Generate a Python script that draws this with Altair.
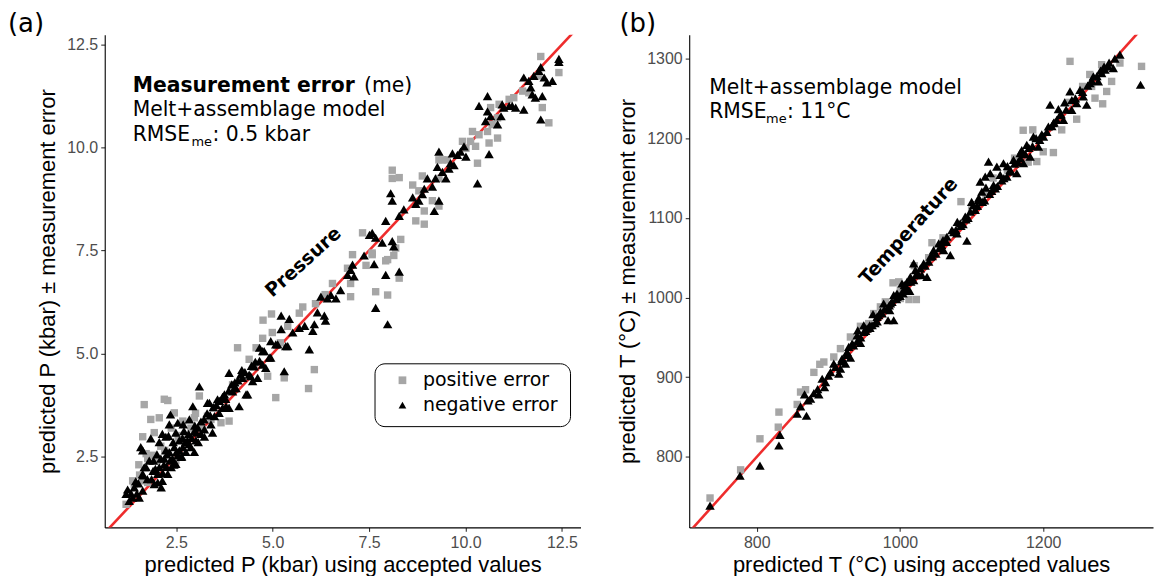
import altair as alt
import pandas as pd

# ---------------- Panel (a): pressure, kbar ----------------
PA_POS = [
    (1.20,1.34),(1.41,1.83),(1.37,1.91),(1.63,1.91),(1.76,1.87),(1.53,2.30),(1.72,2.57),(1.76,2.45),
    (1.89,2.53),(1.63,2.98),(1.93,3.08),(1.84,3.40),(1.67,3.76),(2.06,3.44),(2.19,3.89),(2.28,3.86),
    (2.45,3.56),(2.37,3.19),(2.63,3.01),(2.67,3.36),(2.88,3.19),(2.97,3.44),(3.10,3.97),(3.31,3.48),
    (3.49,3.68),(3.66,3.32),(3.96,4.24),(4.09,5.14),(4.39,4.86),(4.52,4.69),(4.87,4.45),(5.08,3.93),
    (5.30,4.41),(2.49,2.40),(2.01,2.40),(2.20,2.65),(2.78,2.80),(3.17,3.17),(3.79,3.68),(3.87,3.36),
    (3.40,3.40),(2.10,2.75),(2.55,2.95),(3.00,3.55),(1.55,2.05),
    (4.75,5.81),(4.97,5.96),(4.74,5.37),(4.99,5.51),(4.57,5.14),(5.69,5.98),(6.11,6.21),(6.55,6.70),
    (7.02,6.70),(7.02,6.38),(6.94,7.07),(7.07,7.40),(7.42,7.14),(7.58,7.40),(7.67,6.50),(7.98,6.42),
    (8.14,7.38),(7.93,7.25),(8.28,6.83),(5.93,4.15),(6.08,4.61),(5.39,5.66),(5.78,6.13),(6.36,6.43),
    (5.20,5.26),
    (7.33,7.93),(7.58,7.44),(7.98,7.28),(8.19,7.56),(8.32,7.77),(8.71,8.22),(8.93,8.14),(8.93,8.46),
    (9.14,8.71),(9.31,8.58),(8.79,8.95),(8.10,9.45),(8.10,9.25),(8.28,9.27),(8.63,9.09),(8.88,9.31),
    (9.31,9.70),(9.40,9.70),(9.52,9.70),(9.31,9.25),(9.92,10.15),(10.01,9.98),(10.13,10.15),(10.18,10.39),
    (10.35,10.31),(10.26,10.03),(10.31,9.62),(10.57,10.39),(10.61,10.11),(10.83,10.23),(10.69,10.56),
    (10.83,10.72),(10.87,11.05),(10.65,10.97),(11.13,11.17),(11.25,11.21),(11.48,11.37),(11.64,11.33),
    (11.90,11.74),(11.95,12.21),(12.42,11.82),(11.99,10.97),(12.16,10.60),
]
PA_NEG = [
    (1.20,1.59),(1.28,1.42),(1.41,1.75),(1.54,1.50),(1.63,1.67),(1.37,1.50),(1.24,1.70),(1.48,1.60),
    (1.63,2.08),(1.67,2.24),(1.58,2.73),(1.63,2.65),(1.84,2.94),(1.72,2.24),(1.63,2.04),(1.93,1.83),
    (2.02,1.87),(2.14,1.91),(2.11,1.75),(2.28,2.08),(2.02,2.08),(2.06,2.24),(2.37,2.24),(2.49,2.32),
    (2.19,2.45),(2.40,2.45),(2.54,2.53),(2.63,2.49),(2.32,2.61),(2.75,2.61),(2.97,2.61),(2.23,2.65),
    (2.45,2.73),(2.67,2.73),(2.88,2.73),(2.58,2.89),(2.79,2.89),(3.01,2.89),(2.23,2.98),(3.23,2.98),
    (2.14,3.05),(3.14,3.05),(2.70,3.12),(2.97,3.12),(3.23,3.16),(2.32,3.28),(3.40,3.28),(2.84,3.40),
    (3.49,3.48),(3.61,3.56),(2.93,3.72),(3.79,3.72),(4.13,3.72),(3.87,3.68),(3.36,3.80),(3.57,3.89),
    (3.75,4.01),(4.35,4.01),(3.10,4.20),(4.01,4.16),(3.87,4.53),(4.17,4.49),(4.43,4.45),(4.66,4.82),
    (4.78,5.06),(4.95,4.90),(5.13,5.22),(5.30,4.57),(5.34,5.18),(1.91,2.40),(2.15,2.10),(2.25,2.25),
    (2.44,2.30),(2.64,2.50),(2.83,2.80),(3.07,2.85),(3.02,3.08),(2.49,3.08),(2.35,3.52),(2.54,3.32),
    (2.06,2.85),(1.86,1.95),(1.96,2.20),(2.30,3.00),(2.68,3.28),(3.31,3.80),(3.44,3.08),(3.70,3.68),
    (3.96,4.08),(4.05,4.16),(4.22,4.41),(4.31,4.01),(4.39,4.49),(4.48,4.33),(4.52,4.69),(4.61,4.41),
    (4.66,5.14),(4.74,4.73),(4.74,5.06),(4.82,4.65),(4.91,4.90),(4.95,5.30),(5.08,5.22),(5.22,5.59),
    (5.22,5.92),(5.39,5.18),(5.43,5.84),(5.52,5.51),(5.69,5.62),(5.83,5.67),(5.95,5.10),(6.04,5.55),
    (6.08,5.71),(6.16,6.00),(6.25,6.38),(6.34,5.92),(6.37,5.80),(6.42,6.34),(6.51,6.42),(6.64,6.34),
    (6.76,6.54),(6.94,6.91),(7.02,7.03),(7.07,7.16),(7.11,6.87),(7.37,7.38),(7.63,7.17),(7.67,6.11),
    (7.93,6.91),(7.98,5.71),(8.28,6.99),
    (1.75,1.95),(1.80,2.40),(1.90,2.15),(2.00,2.55),(2.10,2.45),(2.18,2.30),(2.26,2.55),(2.34,2.40),
    (2.42,2.85),(2.50,2.60),(2.58,2.65),(2.66,2.95),(2.74,2.85),(2.82,3.05),(2.90,2.95),(2.98,3.25),
    (3.06,3.20),(3.14,3.35),(3.22,3.40),(3.30,3.55),(3.38,3.50),(3.46,3.70),(3.54,3.75),(3.62,3.85),
    (3.70,3.95),(3.78,3.90),(3.86,4.10),(3.94,4.25),(4.02,4.30),(4.10,4.35),(4.20,4.60),(4.28,4.55),
    (4.45,4.70),(4.55,4.80),(1.45,1.90),(1.52,1.85),(1.33,1.60),
    (7.58,7.93),(7.51,7.88),(7.67,7.81),(7.84,7.69),(7.93,8.22),(8.10,7.73),(8.14,7.60),(8.06,8.89),
    (8.10,8.71),(8.28,8.34),(8.40,8.50),(8.63,8.79),(8.71,8.63),(8.79,8.71),(8.88,8.87),(8.93,9.00),
    (9.01,9.25),(9.14,9.05),(9.19,8.46),(9.31,8.71),(9.22,9.25),(9.27,9.53),(9.40,9.41),(9.49,9.25),
    (9.57,9.49),(9.61,9.62),(9.70,9.57),(9.79,9.82),(9.87,9.90),(9.96,10.03),(10.01,9.78),(9.31,9.90),
    (9.66,9.86),(10.31,9.13),(10.35,11.01),(10.57,11.25),(10.57,10.88),(10.52,10.64),(10.65,10.76),
    (10.61,9.84),(10.83,10.56),(10.92,10.76),(10.95,11.05),(10.99,10.97),(11.13,11.01),(11.21,11.01),
    (11.30,10.97),(11.51,10.92),(11.51,11.70),(11.64,11.62),(11.69,11.46),(11.73,11.29),(11.77,11.74),
    (11.81,11.21),(11.90,11.86),(11.95,11.95),(11.99,11.25),(12.04,11.70),(12.11,11.58),(12.25,11.62),
    (11.95,10.68),(12.42,12.15),(12.42,12.08),
]

# ---------------- Panel (b): temperature, degC ----------------
PB_POS = [
    (734.7,748.4),(777.4,783.7),(804.4,822.7),(830.9,856.2),(830.0,837.3),(856.4,865.8),(861.1,881.4),
    (868.1,884.3),(879.7,906.1),(888.0,916.2),(893.6,919.1),(907.5,925.4),(916.8,935.9),(930.7,950.5),
    (944.7,963.9),(956.3,967.3),(963.3,979.9),(979.5,994.6),(990.2,1018.5),(1000.4,998.8),(1012.5,997.5),
    (972.6,988.3),(1000.5,1009.3),(998.2,1019.7),(1022.8,997.5),(1044.6,1068.8),(1085.1,1120.4),
    (1191.0,1170.7),(1214.2,1182.0),(1185.4,1210.5),(1225.8,1210.5),(1246.7,1223.9),(1237.4,1296.5),
    (1272.3,1250.3),(1283.0,1243.2),(1281.6,1292.3),(1295.5,1271.3),(1307.1,1294.4),(1288.6,1258.7),
    (1267.6,1265.0),(1337.3,1290.2),(1172,1210),(1200,1183),(1179,1170),(1060,1075),(1100,1110),
    (1130,1150),(1150,1160),(1235,1245),(1255,1265),(1265,1280),(1040,1050),(1020,1040),(1120,1130),
    (1160,1175),
]
PB_NEG = [
    (734.7,738.8),(776.5,776.5),(804.4,789.1),(832.3,827.7),(830.9,814.3),(856.4,854.1),(861.1,863.3),
    (869.4,851.6),(866.7,878.4),(871.3,870.9),(879.7,880.1),(886.6,878.4),(891.3,898.1),(894.5,887.6),
    (895.9,893.9),(902.9,906.5),(907.5,917.0),(914.5,904.4),(916.8,910.7),(919.1,923.3),(923.8,917.0),
    (926.1,931.7),(928.4,938.0),(930.7,924.5),(933.1,942.2),(940.0,952.6),(941.0,958.9),(944.7,943.0),
    (949.3,956.8),(954.0,961.0),(957.7,965.2),(962.3,979.1),(967.9,975.7),(972.6,982.0),(977.2,992.5),
    (983.3,971.5),(985.6,984.1),(988.8,994.6),(991.2,1003.0),(995.8,1005.1),(1004.2,1005.1),
    (1006.0,1015.5),(1013.5,1008.4),(1009.7,1019.7),(1019.0,1021.8),(1030.6,1028.1),
    (949.4,965.2),(961.0,965.2),(970.3,977.8),(981.9,986.2),(991.2,971.5),(986.6,992.5),(995.9,1000.9),
    (1007.5,1009.3),(1002.8,1017.6),(1014.4,1026.0),(1021.4,1034.4),(1019.1,1042.8),(1028.4,1036.5),
    (1037.7,1026.0),(1033.0,1042.8),(1042.3,1051.2),(1046.9,1059.6),(1054.0,1068.0),(1060.9,1059.6),
    (1065.5,1076.3),(1072.5,1084.7),(1070.2,1053.3),(1079.5,1080.5),(1084.1,1093.1),(1091.1,1101.5),
    (1093.4,1071.3),(1098.1,1107.8),(1102.7,1116.2),(1109.7,1122.5),(1114.3,1133.0),(1112.0,1145.5),
    (1119.0,1151.8),(1123.6,1170.7),(1126.0,1156.0),(1130.6,1141.3),(1135.2,1164.4),(1139.9,1153.9),
    (1144.5,1168.6),(1149.2,1151.8),(1153.8,1160.2),(1158.5,1172.8),(1163.1,1156.0),(1167.8,1181.2),
    (1172.4,1168.6),(1177.0,1191.6),(1181.7,1177.0),(1186.3,1202.1),(1193.3,1189.5),(1200.3,1202.1),
    (1207.2,1214.7),(1214.2,1218.9),(1218.9,1223.1),(1223.5,1229.4),(1209.6,1242.0),(1221.2,1236.5),
    (1228.2,1223.1),(1237.4,1258.7),(1239.8,1235.7),(1246.7,1244.1),(1251.4,1260.8),(1256.0,1252.4),
    (1260.7,1242.0),(1265.3,1269.2),(1270.0,1277.6),(1276.9,1271.3),(1281.6,1281.8),(1286.2,1286.0),
    (1290.9,1290.2),(1297.8,1288.1),(1307.1,1304.9),(1335.9,1267.1),
    (1040,1045),(1050,1055),(1058,1066),(1075,1082),(1088,1092),(1095,1100),(1105,1110),(1118,1122),
    (1128,1134),(1136,1140),(1142,1147),(1155,1158),(1165,1170),(1175,1180),(1185,1190),(1195,1198),
    (1205,1208),(1215,1220),(1232,1236),(1245,1250),(1262,1266),(1275,1278),(1285,1290),(1000,1002),
    (1010,1012),(1025,1030),(965,968),(975,980),(940,945),(925,928),(1110,1125),(1150,1165),(1170,1185),
    (1190,1200),(1230,1245),(1060,1072),(1080,1095),(1100,1120),(1120,1138),
    (945,950),(952,958),(958,962),(968,970),(978,985),(985,990),(995,998),(1005,1010),(1015,1020),
    (1022,1028),(1035,1040),(1045,1052),(1055,1062),(1065,1070),(1078,1085),(1085,1090),(1092,1098),
    (1108,1115),(1115,1120),(1125,1130),(1133,1137),(1145,1150),(1160,1168),(1168,1175),(1180,1188),
    (1198,1205),(1212,1215),(1225,1230),(1240,1248),(1255,1258),(1268,1272),(1280,1285),(1292,1295),
    (1300,1300),(900,902),(910,913),(918,920),(935,940),(885,885),(875,873),
]

LEVELS = ["positive error", "negative error"]
SHAPES = ["square", "triangle-up"]
COLORS = ["#a6a6a6", "#000000"]
RED = "#ee2c2c"

A_XDOM = [0.646, 12.98]
A_YDOM = [0.78, 12.74]
A_TICKS = [2.5, 5.0, 7.5, 10.0, 12.5]
A_LINE = [0.0, 14.0]
B_XDOM = [705.6, 1353.3]
B_YDOM = [711.5, 1330.0]
B_XTICKS = [800, 1000, 1200]
B_YTICKS = [800, 900, 1000, 1100, 1200, 1300]
B_LINE = [600.0, 1400.0]

FT = "DejaVu Sans"
TS = 20.4


def frame(pairs, label):
    return pd.DataFrame({"acc": [p[0] for p in pairs],
                         "pred": [p[1] for p in pairs],
                         "err": [label] * len(pairs)})


def txt(s, x, y, size=TS, bold=False, angle=0, align="left", baseline="alphabetic"):
    kw = dict(align=align, baseline=baseline, fontSize=size, font=FT, color="black")
    if bold:
        kw["fontWeight"] = "bold"
    if angle:
        kw["angle"] = angle
    return alt.Chart(pd.DataFrame({"t": [s]})).mark_text(**kw).encode(
        text="t:N", x=alt.value(x), y=alt.value(y))


def panel(pos, neg, xdom, ydom, xticks, yticks, fmt, xtitle, ytitle, line_vals,
          legend, extras, width, height):
    xs = alt.X("acc:Q", scale=alt.Scale(domain=xdom, nice=False, zero=False),
               axis=alt.Axis(values=xticks, format=fmt, title=xtitle))
    ys = alt.Y("pred:Q", scale=alt.Scale(domain=ydom, nice=False, zero=False),
               axis=alt.Axis(values=yticks, format=fmt, title=ytitle))
    shp = alt.Shape("err:N", scale=alt.Scale(domain=LEVELS, range=SHAPES), legend=legend)
    col = alt.Color("err:N", scale=alt.Scale(domain=LEVELS, range=COLORS), legend=legend)
    line = alt.Chart(pd.DataFrame({"acc": line_vals, "pred": line_vals})).mark_line(
        clip=True, color=RED, strokeWidth=2.6).encode(x=xs, y=ys)
    p_pos = alt.Chart(frame(pos, LEVELS[0])).mark_point(
        filled=True, size=55, opacity=1, strokeWidth=0).encode(x=xs, y=ys, shape=shp, color=col)
    p_neg = alt.Chart(frame(neg, LEVELS[1])).mark_point(
        filled=True, size=90, opacity=1, strokeWidth=0).encode(x=xs, y=ys, shape=shp, color=col)
    return alt.layer(line, p_pos, p_neg, *extras).properties(width=width, height=height)


legend_a = alt.Legend(orient="none", legendX=289, legendY=337, title=None,
                      labelFont=FT, labelFontSize=19, labelColor="black",
                      symbolSize=60, symbolStrokeWidth=0, rowPadding=5,
                      labelOffset=11, padding=0)

box = alt.Chart(pd.DataFrame({"a": [0]})).mark_rect(
    cornerRadius=10, fill="white", stroke="black", strokeWidth=1).encode(
    x=alt.value(271), x2=alt.value(467), y=alt.value(330), y2=alt.value(393))

extras_a = [
    box,
    txt("(a)", -97, -3, size=26),
    txt("Measurement error", 28, 57, bold=True),
    txt("(me)", 260, 57),
    txt("Melt+assemblage model", 28, 82),
    txt("RMSE", 28, 107),
    txt("me", 87, 112, size=13),
    txt(": 0.5 kbar", 108, 107),
    txt("Pressure", 199, 228, size=19, bold=True, angle=318, align="center", baseline="middle"),
]
extras_b = [
    txt("(b)", -70, -3, size=26),
    txt("Melt+assemblage model", 20, 59),
    txt("RMSE", 20, 84),
    txt("me", 77, 89, size=13),
    txt(": 11°C", 98, 84),
    txt("Temperature", 220, 197, size=19, bold=True, angle=312, align="center", baseline="middle"),
]

pa = panel(PA_POS, PA_NEG, A_XDOM, A_YDOM, A_TICKS, A_TICKS, ".1f",
           "predicted P (kbar) using accepted values",
           "predicted P (kbar) ± measurement error",
           A_LINE, legend_a, extras_a, 477, 494)
pb = panel(PB_POS, PB_NEG, B_XDOM, B_YDOM, B_XTICKS, B_YTICKS, "d",
           "predicted T (°C) using accepted values",
           "predicted T (°C) ± measurement error",
           B_LINE, None, extras_b, 465, 494)

chart = alt.hconcat(pa, pb, spacing=36).resolve_scale(
    color="independent", shape="independent"
).properties(
    padding={"left": 8, "top": 10, "right": 1, "bottom": 0}
).configure_view(stroke=None).configure_axis(
    grid=False, domainColor="black", domainWidth=1.1, tickColor="#333333",
    tickWidth=1.1, tickSize=4, labelColor="#4d4d4d", labelFont="Liberation Sans",
    labelFontSize=16, labelPadding=3, titleFont="Liberation Sans", titleFontSize=22,
    titleFontWeight="normal", titleColor="black"
).configure_axisX(titlePadding=4).configure_axisY(titlePadding=7)

chart.save("out.html", embed_options={"renderer": "svg", "actions": False})
